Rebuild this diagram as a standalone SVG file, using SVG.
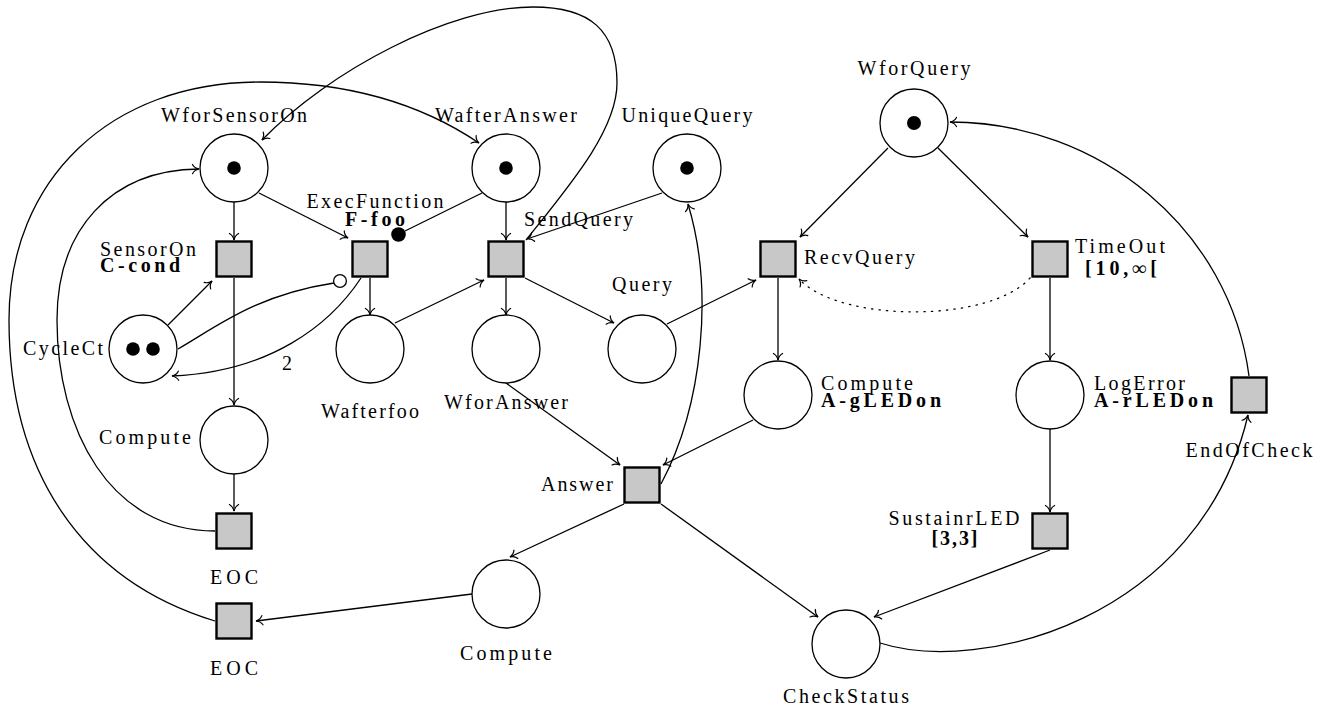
<svg xmlns="http://www.w3.org/2000/svg" width="1323" height="709" viewBox="0 0 1323 709">
<style>
  .pl { fill: #fff; stroke: #000; stroke-width: 1.3; }
  .tr { fill: #c8c8c8; stroke: #000; stroke-width: 2.4; }
  .tk { fill: #000; }
  .lb { font-family: "Liberation Serif", "Times New Roman", serif; font-size: 20px; fill: #000; }
  .bd { font-weight: bold; }
  .arc { fill: none; stroke: #000; stroke-width: 1.3; }
  .arr { marker-end: url(#ah); }
  .dot { stroke-dasharray: 1.3 6.2; stroke-linecap: round; }
</style>
<defs>
  <marker id="ah" markerUnits="userSpaceOnUse" orient="auto" refX="0" refY="0" markerWidth="12" markerHeight="12" viewBox="-8 -6 10 12" overflow="visible">
    <path d="M-6.5,-4.6 C-5.2,-2 -2.2,-0.5 0,0 C-2.2,0.5 -5.2,2 -6.5,4.6" fill="none" stroke="#000" stroke-width="1.2" stroke-linecap="round"/>
  </marker>
</defs>

<!-- arcs of the net -->
<g id="connectors">
  <path class="arc arr" d="M234,202 L234,240"/>
  <path class="arc arr" d="M259,193 L348,238"/>
  <path class="arc" d="M482,193 L405,231"/>
  <circle cx="398.5" cy="234.5" r="7.3" fill="#000"/>
  <path class="arc arr" d="M506,202 L506,240"/>
  <path class="arc arr" d="M662,193 L527,239"/>
  <path class="arc arr" d="M525,278 L614,323"/>
  <path class="arc arr" d="M506,278 L506,315"/>
  <path class="arc arr" d="M395,323 L484,280"/>
  <path class="arc arr" d="M370,278 L370,315"/>
  <path class="arc arr" d="M168,325 L212,281"/>
  <!-- inhibitor arc CycleCt -> ExecFunction -->
  <path class="arc" d="M178,349 C215,328 255,295 334,283"/>
  <circle cx="340" cy="281" r="6.4" fill="#fff" stroke="#000" stroke-width="1.3"/>
  <!-- weighted arc ExecFunction -> CycleCt -->
  <path class="arc arr" d="M361,278 C330,325 270,372 172,376"/>
  <path class="arc arr" d="M234,278 L234,405"/>
  <path class="arc arr" d="M234,474 L234,511"/>
  <path class="arc arr" d="M215,531 C110,531 57,430 57,320 C57,230 110,170 199,169"/>
  <path class="arc arr" d="M215,621 C80,580 9,470 9,320 C9,180 110,82 260,82 C360,82 430,110 479,143"/>
  <path class="arc arr" d="M526,240 C570,185 617,130 617,83 C617,30 590,7 533,7 C450,7 330,70 262,140"/>
  <path class="arc arr" d="M667,324 L756,280"/>
  <path class="arc arr" d="M888,148 L800,237"/>
  <path class="arc arr" d="M938,148 L1028,237"/>
  <path class="arc arr dot" d="M1030,278 C990,323 840,323 799,279"/>
  <path class="arc arr" d="M778,278 L778,360"/>
  <path class="arc arr" d="M1050,278 L1050,360"/>
  <path class="arc arr" d="M1050,429 L1050,512"/>
  <path class="arc arr" d="M753,420 L663,465"/>
  <path class="arc arr" d="M506,383 L620,465"/>
  <path class="arc arr" d="M661,484 C703,405 714,290 688,204"/>
  <path class="arc arr" d="M624,504 L510,557"/>
  <path class="arc arr" d="M661,504 L818,617"/>
  <path class="arc arr" d="M472,594 L256,621"/>
  <path class="arc arr" d="M1050,550 L874,617"/>
  <path class="arc arr" d="M880,643 C980,675 1200,620 1248,415"/>
  <path class="arc arr" d="M1249,376 C1230,230 1100,122 950,122"/>
  <text class="lb" x="287" y="370" text-anchor="middle">2</text>
</g>

<!-- places -->
<g id="p-WforSensorOn">
  <circle class="pl" cx="234" cy="168" r="34"/>
  <circle class="tk" cx="234" cy="168" r="6.8"/>
  <text class="lb" x="234" y="122" text-anchor="middle" textLength="146">WforSensorOn</text>
</g>
<g id="p-WafterAnswer">
  <circle class="pl" cx="506" cy="168" r="34"/>
  <circle class="tk" cx="506" cy="168" r="6.8"/>
  <text class="lb" x="506" y="122" text-anchor="middle" textLength="142">WafterAnswer</text>
</g>
<g id="p-UniqueQuery">
  <circle class="pl" cx="687" cy="168" r="34"/>
  <circle class="tk" cx="687" cy="168" r="6.8"/>
  <text class="lb" x="687" y="122" text-anchor="middle" textLength="131">UniqueQuery</text>
</g>
<g id="p-WforQuery">
  <circle class="pl" cx="914" cy="123" r="34"/>
  <circle class="tk" cx="914" cy="123" r="7"/>
  <text class="lb" x="914" y="75" text-anchor="middle" textLength="113">WforQuery</text>
</g>
<g id="p-CycleCt">
  <circle class="pl" cx="143" cy="349" r="34"/>
  <circle class="tk" cx="133" cy="349" r="6.8"/>
  <circle class="tk" cx="153" cy="349" r="6.8"/>
  <text class="lb" x="103" y="355" text-anchor="end" textLength="80">CycleCt</text>
</g>
<g id="p-Wafterfoo">
  <circle class="pl" cx="370" cy="349" r="34"/>
  <text class="lb" x="370" y="418" text-anchor="middle" textLength="98">Wafterfoo</text>
</g>
<g id="p-WforAnswer">
  <circle class="pl" cx="506" cy="349" r="34"/>
  <text class="lb" x="506" y="409" text-anchor="middle" textLength="124">WforAnswer</text>
</g>
<g id="p-Query">
  <circle class="pl" cx="642" cy="349" r="34"/>
  <text class="lb" x="642" y="291" text-anchor="middle" textLength="60">Query</text>
</g>
<g id="p-ComputeSensor">
  <circle class="pl" cx="234" cy="440" r="34"/>
  <text class="lb" x="191" y="444" text-anchor="end" textLength="92">Compute</text>
</g>
<g id="p-ComputeGreen">
  <circle class="pl" cx="778" cy="395" r="34"/>
  <text class="lb"><tspan x="821" y="390" textLength="92">Compute</tspan><tspan class="bd" x="821" y="407" textLength="120">A-gLEDon</tspan></text>
</g>
<g id="p-LogError">
  <circle class="pl" cx="1050" cy="395" r="34"/>
  <text class="lb"><tspan x="1094" y="390" textLength="91">LogError</tspan><tspan class="bd" x="1094" y="407" textLength="119">A-rLEDon</tspan></text>
</g>
<g id="p-ComputeAnswer">
  <circle class="pl" cx="506" cy="594" r="34"/>
  <text class="lb" x="506" y="660" text-anchor="middle" textLength="92">Compute</text>
</g>
<g id="p-CheckStatus">
  <circle class="pl" cx="846" cy="644" r="34"/>
  <text class="lb" x="846" y="703" text-anchor="middle" textLength="126">CheckStatus</text>
</g>

<!-- transitions -->
<g id="t-SensorOn">
  <rect class="tr" x="216.5" y="241.5" width="35" height="35"/>
  <text class="lb"><tspan x="100" y="256" textLength="96">SensorOn</tspan><tspan class="bd" x="100" y="272" textLength="80">C-cond</tspan></text>
</g>
<g id="t-ExecFunction">
  <rect class="tr" x="352.5" y="241.5" width="35" height="35"/>
  <text class="lb" text-anchor="middle"><tspan x="375" y="208" textLength="137">ExecFunction</tspan><tspan class="bd" x="375" y="226" textLength="60">F-foo</tspan></text>
</g>
<g id="t-SendQuery">
  <rect class="tr" x="488.5" y="241.5" width="35" height="35"/>
  <text class="lb" x="524" y="226" textLength="109">SendQuery</text>
</g>
<g id="t-RecvQuery">
  <rect class="tr" x="760.5" y="241.5" width="35" height="35"/>
  <text class="lb" x="804" y="264" textLength="111">RecvQuery</text>
</g>
<g id="t-TimeOut">
  <rect class="tr" x="1032.5" y="241.5" width="35" height="35"/>
  <text class="lb" text-anchor="middle"><tspan x="1120" y="253" textLength="90">TimeOut</tspan><tspan class="bd" x="1121" y="275" textLength="72">[10,∞[</tspan></text>
</g>
<g id="t-EOC-sensor">
  <rect class="tr" x="216.5" y="513.5" width="35" height="35"/>
  <text class="lb" x="234" y="584" text-anchor="middle" textLength="48">EOC</text>
</g>
<g id="t-EOC-answer">
  <rect class="tr" x="216.5" y="603.5" width="35" height="35"/>
  <text class="lb" x="234" y="675" text-anchor="middle" textLength="48">EOC</text>
</g>
<g id="t-Answer">
  <rect class="tr" x="624.5" y="467.5" width="35" height="35"/>
  <text class="lb" x="613" y="491" text-anchor="end" textLength="72">Answer</text>
</g>
<g id="t-SustainrLED">
  <rect class="tr" x="1032.5" y="513.5" width="35" height="35"/>
  <text class="lb" text-anchor="middle"><tspan x="954" y="525" textLength="131">SustainrLED</tspan><tspan class="bd" x="954.5" y="545" textLength="46">[3,3]</tspan></text>
</g>
<g id="t-EndOfCheck">
  <rect class="tr" x="1231.5" y="377.5" width="35" height="35"/>
  <text class="lb" x="1249" y="457" text-anchor="middle" textLength="127">EndOfCheck</text>
</g>
</svg>
